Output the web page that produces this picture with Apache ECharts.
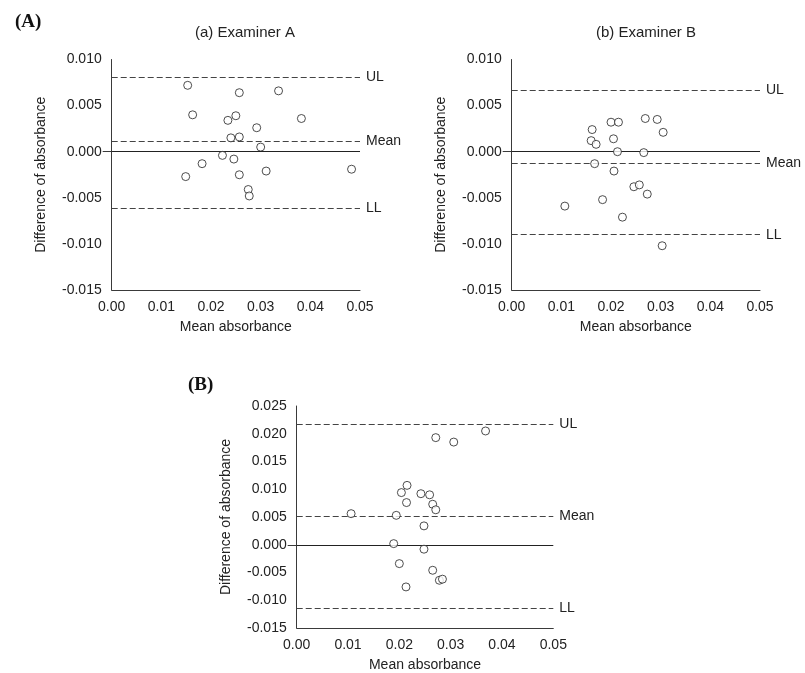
<!DOCTYPE html>
<html><head><meta charset="utf-8">
<script src="https://cdn.jsdelivr.net/npm/echarts@6/dist/echarts.min.js"></script>
<style>html,body{margin:0;padding:0;background:#fff}#c{width:805px;height:673px}</style>
</head><body><div id="c"></div>
<script>
// (a) Examiner A
var aMean = [0.0153, 0.0257, 0.0336, 0.0163, 0.0250, 0.0234, 0.0382, 0.0292, 0.0240, 0.0257, 0.0300, 0.0223, 0.0246, 0.0182, 0.0149, 0.0257, 0.0311, 0.0483, 0.0275, 0.0277];
var aDiff = [0.0072, 0.0064, 0.0066, 0.0040, 0.0039, 0.0034, 0.0036, 0.0026, 0.0015, 0.0016, 0.0005, -0.0004, -0.0008, -0.0013, -0.0027, -0.0025, -0.0021, -0.0019, -0.0041, -0.0048];
var aLimits = [0.0081, 0.0011, -0.0061];
// (b) Examiner B
var bMean = [0.0162, 0.0200, 0.0215, 0.0269, 0.0293, 0.0305, 0.0160, 0.0170, 0.0205, 0.0213, 0.0266, 0.0167, 0.0206, 0.0246, 0.0257, 0.0273, 0.0183, 0.0107, 0.0223, 0.0303];
var bDiff = [0.0024, 0.0032, 0.0032, 0.0036, 0.0035, 0.0021, 0.0012, 0.0008, 0.0014, 0.0000, -0.0001, -0.0013, -0.0021, -0.0038, -0.0036, -0.0046, -0.0052, -0.0059, -0.0071, -0.0102];
var bLimits = [0.0067, -0.0012, -0.0090];
// (B) combined
var cMean = [0.0368, 0.0271, 0.0306, 0.0215, 0.0204, 0.0242, 0.0259, 0.0214, 0.0265, 0.0271, 0.0106, 0.0194, 0.0248, 0.0189, 0.0248, 0.0200, 0.0265, 0.0278, 0.0284, 0.0213];
var cDiff = [0.0205, 0.0193, 0.0185, 0.0107, 0.0094, 0.0092, 0.0090, 0.0076, 0.0073, 0.0063, 0.0056, 0.0053, 0.0034, 0.0002, -0.0008, -0.0034, -0.0046, -0.0064, -0.0062, -0.0076];
var cLimits = [0.0217, 0.0052, -0.0114];
var limitNames = ['UL', 'Mean', 'LL'];
var xTicks = {min: 0, max: 0.05, interval: 0.01};
var yTicksTop = {min: -0.015, max: 0.010, interval: 0.005};
var yTicksBottom = {min: -0.015, max: 0.025, interval: 0.005};

var FONT = 'Liberation Sans, Arial, sans-serif';
var AX = '#3a3a3a';

function zip(xs, ys) { return xs.map(function (x, i) { return [x, ys[i]]; }); }

function xAxis(idx) {
  return {
    type: 'value', gridIndex: idx, min: xTicks.min, max: xTicks.max, interval: xTicks.interval,
    name: 'Mean absorbance', nameLocation: 'middle', nameGap: 30,
    nameTextStyle: {fontFamily: FONT, fontSize: 14, color: '#222'},
    axisLine: {show: true, onZero: false, lineStyle: {color: AX, width: 1}},
    axisTick: {show: false}, splitLine: {show: false},
    axisLabel: {fontFamily: FONT, fontSize: 14, color: '#222', margin: 10,
      formatter: function (v) { return v.toFixed(2); }}
  };
}
function yAxis(idx, t, gap) {
  return {
    type: 'value', gridIndex: idx, min: t.min, max: t.max, interval: t.interval,
    name: 'Difference of absorbance', nameLocation: 'middle', nameGap: gap,
    nameTextStyle: {fontFamily: FONT, fontSize: 14, color: '#222'},
    axisLine: {show: true, onZero: false, lineStyle: {color: AX, width: 1}},
    axisTick: {show: true, customValues: [0], length: 9, lineStyle: {color: AX}},
    splitLine: {show: false},
    axisLabel: {fontFamily: FONT, fontSize: 14, color: '#222', margin: 10,
      formatter: function (v) { return v.toFixed(3); }}
  };
}
function series(idx, xs, ys, lim) {
  var ml = lim.map(function (v, i) {
    return {yAxis: v, name: limitNames[i],
      label: {show: true, position: 'end', formatter: limitNames[i], distance: 6,
        fontFamily: FONT, fontSize: 14, color: '#222'},
      lineStyle: {type: [6, 3], color: '#444', width: 1.2}};
  });
  ml.push({yAxis: 0, label: {show: false}, lineStyle: {type: 'solid', color: '#222', width: 1}});
  return {
    type: 'scatter', xAxisIndex: idx, yAxisIndex: idx, data: zip(xs, ys),
    symbol: 'circle', symbolSize: 8, z: 5,
    itemStyle: {color: '#fff', borderColor: '#222', borderWidth: 1},
    markLine: {silent: true, precision: 6, symbol: ['none', 'none'], animation: false, z: 3, data: ml}
  };
}

var chart = echarts.init(document.getElementById('c'), null, {renderer: 'canvas'});
chart.setOption({
  animation: false,
  backgroundColor: '#fff',
  title: [
    {text: '(A)', left: 10, top: 8, textStyle: {fontFamily: 'Liberation Serif, Times New Roman, serif', fontWeight: 'bold', fontSize: 19, color: '#111'}},
    {text: '(B)', left: 183, top: 371, textStyle: {fontFamily: 'Liberation Serif, Times New Roman, serif', fontWeight: 'bold', fontSize: 19, color: '#111'}},
    {text: '(a) Examiner A', left: 240, top: 20, textAlign: 'center', textStyle: {fontFamily: FONT, fontWeight: 'normal', fontSize: 15, color: '#222'}},
    {text: '(b) Examiner B', left: 641, top: 20, textAlign: 'center', textStyle: {fontFamily: FONT, fontWeight: 'normal', fontSize: 15, color: '#222'}}
  ],
  grid: [
    {left: 111.7, top: 59.5, width: 248.3, height: 230.5},
    {left: 511.7, top: 59.5, width: 248.3, height: 230.5},
    {left: 296.7, top: 406, width: 256.6, height: 226}
  ],
  xAxis: [xAxis(0), xAxis(1), xAxis(2)],
  yAxis: [yAxis(0, yTicksTop, 64), yAxis(1, yTicksTop, 64), yAxis(2, yTicksBottom, 64)],
  series: [series(0, aMean, aDiff, aLimits), series(1, bMean, bDiff, bLimits), series(2, cMean, cDiff, cLimits)]
});
</script></body></html>
